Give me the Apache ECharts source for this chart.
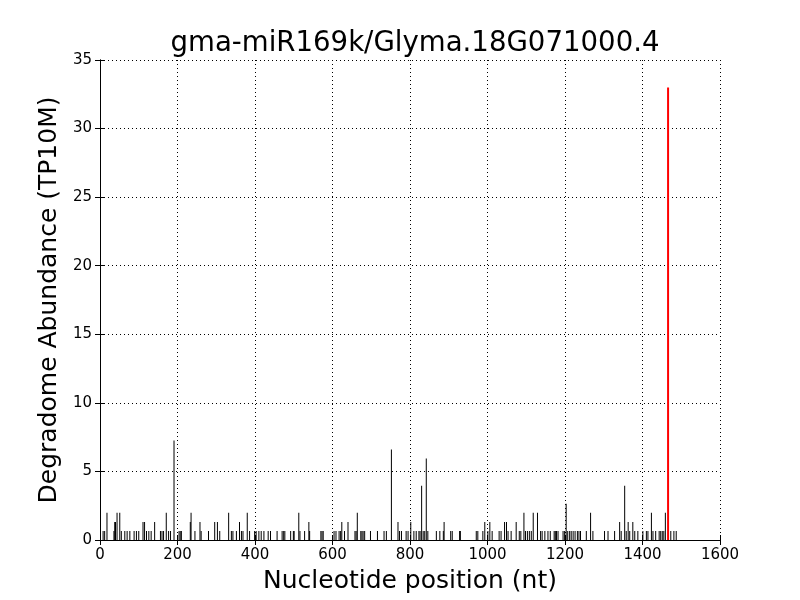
<!DOCTYPE html>
<html>
<head>
<meta charset="utf-8">
<script src="https://cdn.jsdelivr.net/npm/echarts@6/dist/echarts.min.js"></script>
<style>html,body{margin:0;padding:0;background:#fff}#c{width:800px;height:600px}</style>
</head>
<body>
<div id="c"></div>
<script>
var titleText = "gma-miR169k/Glyma.18G071000.4";
var xLabel = "Nucleotide position (nt)";
var yLabel = "Degradome Abundance (TP10M)";
var positions = [8,12,18,36,38,40,44,51,55,64,70,77,88,94,100,111,115,120,126,132,141,156,160,164,171,177,182,191,
204,207,210,233,235,245,258,261,280,296,303,309,332,339,343,352,360,365,369,380,386,399,403,
410,416,423,434,440,457,470,474,477,492,499,501,513,516,528,539,541,570,573,576,604,609,
617,621,624,631,640,658,661,664,673,676,679,683,698,716,733,739,752,769,773,778,790,795,802,
810,816,823,826,830,834,838,842,846,868,877,886,888,905,909,928,930,971,975,988,993,1001,1006,1012,
1030,1035,1044,1049,1053,1061,1074,1082,1086,1094,1098,1103,1108,1113,1118,1129,1137,1141,1148,1156,1162,1172,1175,1178,1182,1195,1199,1203,1207,1212,1216,1221,1226,1232,
1236,1240,1255,1266,1272,1302,1311,1328,1341,1345,1354,1358,1363,1367,1375,1380,1388,1401,1410,1414,1423,1427,1434,
1443,1447,1451,1455,1459,1473,1481,1487];
var abundances = [0.66,0.66,1.98,0.66,1.32,1.32,1.98,1.98,0.66,0.66,0.66,0.66,0.66,0.66,0.66,1.32,1.32,0.66,0.66,0.66,1.32,0.66,0.66,0.66,1.98,0.66,0.66,7.26,
0.66,0.66,0.66,1.32,1.98,0.66,1.32,0.66,0.66,1.32,1.32,0.66,1.98,0.66,0.66,0.66,1.32,0.66,0.66,1.98,0.66,0.66,0.66,
0.66,0.66,0.66,0.66,0.66,0.66,0.66,0.66,0.66,0.66,0.66,0.66,1.98,0.66,0.66,1.32,0.66,0.66,0.66,0.66,0.66,0.66,
0.66,0.66,1.32,0.66,1.32,0.66,0.66,1.98,0.66,0.66,0.66,0.66,0.66,0.66,0.66,0.66,6.6,1.32,0.66,0.66,0.66,0.66,1.32,
0.66,0.66,0.66,0.66,3.96,0.66,0.66,5.94,0.66,0.66,0.66,0.66,1.32,0.66,0.66,0.66,0.66,0.66,0.66,0.66,1.32,0.66,1.32,0.66,
0.66,0.66,1.32,1.32,0.66,0.66,1.32,0.66,0.66,1.98,0.66,0.66,0.66,0.66,1.98,1.98,0.66,0.66,0.66,0.66,0.66,0.66,0.66,0.66,0.66,0.66,0.66,2.64,0.66,0.66,0.66,0.66,0.66,0.66,
0.66,0.66,0.66,1.98,0.66,0.66,0.66,0.66,1.32,0.66,3.96,0.66,1.32,0.66,1.32,0.66,0.66,0.66,0.66,0.66,1.98,0.66,0.66,
0.66,0.66,0.66,0.66,1.98,0.66,0.66,0.66];
var targetPosition = [1466];
var targetAbundance = [33];
var xTicks = {min:0, max:1600, interval:200};
var yTicks = {min:0, max:35, interval:5};

var bgData = positions.map(function(p,i){return [p, abundances[i]];});
var tgData = targetPosition.map(function(p,i){return [p, targetAbundance[i]];});

var font = "DejaVu Sans";
var chart = echarts.init(document.getElementById('c'));
var axisLine = {show:true, lineStyle:{color:'#000', width:1}};
var tick = {show:true, inside:true, length:5, lineStyle:{color:'#000'}};
var split = {show:true, lineStyle:{color:'#000', type:[1,3], width:1}};
var plain = function(v){ return String(v); };
chart.setOption({
  animation:false,
  backgroundColor:'#fff',
  title:{text:titleText, left:410, top:25, textAlign:'center',
    textStyle:{fontFamily:font, fontSize:27.6, fontWeight:'normal', color:'#000'}},
  grid:{left:100, right:80, top:60, bottom:60, containLabel:false, outerBoundsMode:'none'},
  xAxis:[
    {type:'value', min:xTicks.min, max:xTicks.max, interval:xTicks.interval, position:'bottom',
     name:xLabel, nameLocation:'middle', nameGap:29,
     nameTextStyle:{fontFamily:font, fontSize:25, color:'#000'},
     axisLine:axisLine, axisTick:tick, splitLine:split,
     axisLabel:{fontFamily:font, fontSize:15, color:'#000', margin:8, formatter:plain}},
    {type:'value', min:xTicks.min, max:xTicks.max, interval:xTicks.interval, position:'top',
     axisLine:axisLine, axisTick:tick, splitLine:{show:false}, axisLabel:{show:false}}
  ],
  yAxis:[
    {type:'value', min:yTicks.min, max:yTicks.max, interval:yTicks.interval, position:'left',
     name:yLabel, nameLocation:'middle', nameGap:34,
     nameTextStyle:{fontFamily:font, fontSize:25, color:'#000'},
     axisLine:axisLine, axisTick:tick, splitLine:split,
     axisLabel:{fontFamily:font, fontSize:15, color:'#000', margin:8, formatter:plain}},
    {type:'value', min:yTicks.min, max:yTicks.max, interval:yTicks.interval, position:'right',
     axisLine:axisLine, axisTick:tick, splitLine:{show:false}, axisLabel:{show:false}}
  ],
  series:[
    {type:'bar', xAxisIndex:0, yAxisIndex:0, data:bgData, barWidth:1,
     itemStyle:{color:'#000'}},
    {type:'bar', xAxisIndex:1, yAxisIndex:0, data:tgData, barWidth:2,
     itemStyle:{color:'#ff0000'}}
  ]
});
</script>
</body>
</html>
